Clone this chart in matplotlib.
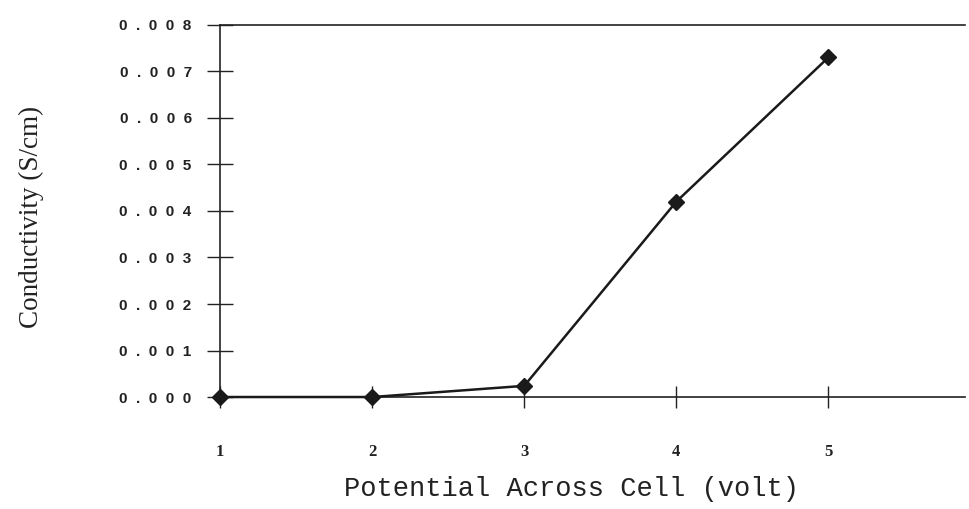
import matplotlib.pyplot as plt
from matplotlib.ticker import FuncFormatter

voltage = [1, 2, 3, 4, 5]
conductivity = [0.0, 0.0, 0.00024, 0.0042, 0.0073]
y_ticks = [0.000, 0.001, 0.002, 0.003, 0.004, 0.005, 0.006, 0.007, 0.008]
x_ticks = [1, 2, 3, 4, 5]

fig = plt.figure(figsize=(9.7, 5.09), dpi=100)
ax = fig.add_axes([0.227, 0.22, 0.768, 0.731])

ax.plot(voltage, conductivity, color='#1a1a1a', linewidth=1.8,
        marker='D', markersize=8, markerfacecolor='#1a1a1a', markeredgecolor='#1a1a1a',
        clip_on=False, zorder=3)

ax.set_xlim(1, 5.9)
ax.set_ylim(0, 0.008)
ax.set_xticks(x_ticks)
ax.set_yticks(y_ticks)

# wide letter spacing like the scanned labels
ax.yaxis.set_major_formatter(FuncFormatter(lambda v, pos: '  '.join(f'{v:.3f}')))

for lbl in ax.get_yticklabels():
    lbl.set_fontfamily('Liberation Sans')
    lbl.set_fontweight('bold')
    lbl.set_fontsize(11)
for lbl in ax.get_xticklabels():
    lbl.set_fontfamily('Liberation Serif')
    lbl.set_fontweight('bold')
    lbl.set_fontsize(12)

ax.tick_params(axis='y', direction='inout', length=19, width=1, pad=11, colors='#222222')
ax.tick_params(axis='x', direction='inout', length=16, width=1, pad=26, colors='#222222')

ax.spines['right'].set_visible(False)
for s in ['left', 'bottom', 'top']:
    ax.spines[s].set_color('#222222')
    ax.spines[s].set_linewidth(1.2)

ax.set_xlabel('Potential Across Cell (volt)', fontfamily='Liberation Mono', fontsize=19.5,
              color='#222222')
ax.xaxis.set_label_coords(571 / 970, 1 - 476 / 509, transform=fig.transFigure)
ax.set_ylabel('Conductivity (S/cm)', fontfamily='Liberation Serif', fontsize=19.5,
              color='#222222')
ax.yaxis.set_label_coords(44 / 970, 1 - 217 / 509, transform=fig.transFigure)

fig.savefig('out.png', dpi=100)
